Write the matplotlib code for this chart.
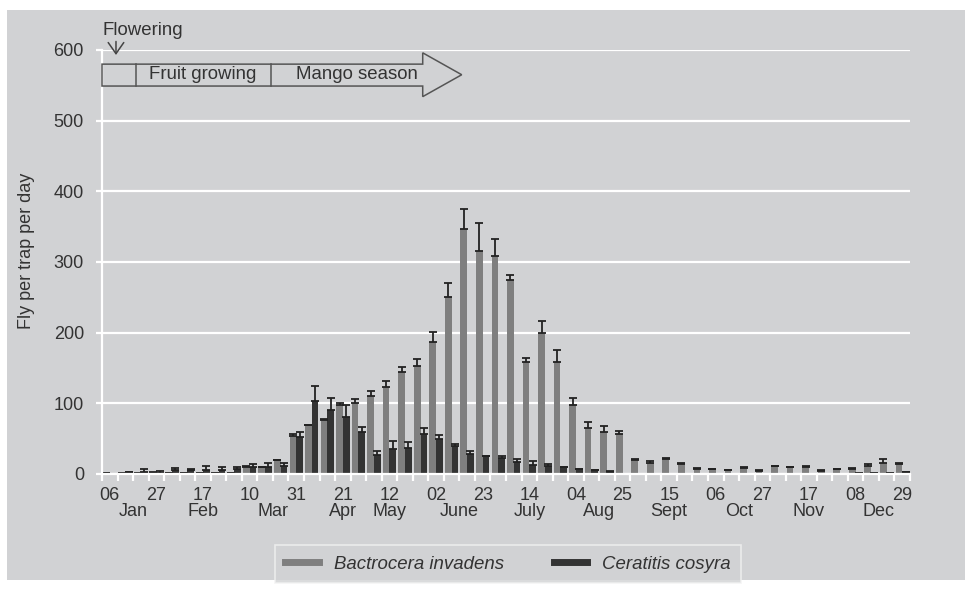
import matplotlib.pyplot as plt
from matplotlib import rcParams
from matplotlib.patches import Polygon, Rectangle
from matplotlib.lines import Line2D
import numpy as np

# Data (weekly, 06 Jan to 29 Dec)
day_labels = ["06", "27", "17", "10", "31", "21", "12", "02", "23", "14",
              "04", "25", "15", "06", "27", "17", "08", "29"]
label_months = ["Jan", "Jan", "Feb", "Mar", "Mar", "Apr", "May", "June", "June", "July",
                "Aug", "Aug", "Sept", "Oct", "Oct", "Nov", "Dec", "Dec"]

b_mean = [1, 0.5, 0.5, 2, 1.5, 1, 1, 1.5, 1, 10, 9.5, 19.5, 54, 70, 77, 97, 101, 110,
          123, 144, 153, 187, 250, 347, 316, 308, 274, 159, 200, 159, 98, 65, 59, 56,
          20, 16, 21, 13.5, 7, 6.7, 5.3, 9, 4.7, 10.8, 9.4, 10.4, 4.7, 6.6, 7.5, 11.8,
          15, 14]
b_err = [0.5, 0.3, 0.3, 0.8, 0.5, 0.3, 0.5, 0.5, 0.5, 1, 1, 1, 2, 0, 1, 4, 5, 7.5,
         8, 7, 10, 14, 20, 28, 39, 24, 8, 5, 17, 16, 10, 9, 9, 5,
         1.5, 3, 2, 2, 1, 1, 1, 1.5, 1, 0.8, 1, 1, 1, 1, 1, 2.5,
         6, 2]
c_mean = [0.3, 2.4, 3, 2, 5, 6, 6, 5, 6.6, 10, 10, 11, 52, 103, 91, 81, 59, 27,
          35, 37, 56, 50, 39, 28, 25, 22, 17, 13, 11, 9.5, 7, 5.5, 3.4, 0.5,
          0, 0, 0, 0, 0, 0, 0, 0, 0, 0, 0, 0, 0, 0, 1, 1,
          1, 2.8]
c_err = [0, 0.5, 4, 2, 3, 0.5, 6, 5, 4, 4, 5.5, 4, 8, 22, 17, 17, 8, 6,
         11, 8, 9, 5, 4, 5, 0, 3, 4, 5, 3, 0.5, 0.5, 0.5, 0.5, 0,
         0, 0, 0, 0, 0, 0, 0, 0, 0, 0, 0, 0, 0, 0, 0.3, 0.3,
         0.3, 0.3]

series_names = ["Bactrocera invadens", "Ceratitis cosyra"]
series_colors = ["#7f7f7f", "#333333"]

# Style
rcParams.update({"font.family": ["Liberation Sans", "DejaVu Sans"], "font.size": 13,
                 "text.color": "#333333"})
bg = "#d1d2d4"
txt = "#333333"
fs = 13

fig = plt.figure(figsize=(9.65, 5.89), dpi=100, facecolor="white")
fig.patches.append(Rectangle((7 / 965, 9 / 589), 1 - 7 / 965, 570 / 589,
                             transform=fig.transFigure, facecolor=bg,
                             edgecolor="none", zorder=-10))
ax = fig.add_axes([102 / 965, 115 / 589, 808 / 965, 424 / 589])
ax.set_facecolor(bg)
ax.set_zorder(2)

# Bars
n = len(b_mean)
x = np.arange(n)
w = 0.43
for vals, errs, off, color in [(b_mean, b_err, -w / 2, series_colors[0]),
                               (c_mean, c_err, w / 2, series_colors[1])]:
    vals = np.array(vals, dtype=float)
    errs = np.array(errs, dtype=float)
    ax.bar(x + off, vals, width=w, color=color, zorder=3)
    m = vals > 0
    ax.errorbar(x[m] + off, vals[m], yerr=[np.zeros(m.sum()), errs[m]], fmt="none",
                ecolor="#222222", elinewidth=1.3, capsize=3, capthick=1.3, zorder=4)

# Axes
ax.set_xlim(-0.5, n - 0.5)
ax.set_ylim(0, 600)
ax.set_yticks(np.arange(0, 601, 100))
ax.grid(axis="y", color="white", linewidth=1.6, zorder=1)
for s in ["top", "right"]:
    ax.spines[s].set_visible(False)
for s in ["left", "bottom"]:
    ax.spines[s].set_color("white")
    ax.spines[s].set_linewidth(1.6)
    ax.spines[s].set_zorder(5)
ax.tick_params(axis="y", colors="white", length=4, width=1.6, pad=9,
               labelcolor=txt, labelsize=fs)

label_idx = np.arange(0, n, 3)
ax.set_xticks(label_idx)
ax.set_xticklabels(day_labels, fontsize=fs, color=txt)
ax.tick_params(axis="x", which="major", length=0, pad=9)
ax.set_xticks(np.arange(-0.5, n, 1), minor=True)
ax.tick_params(axis="x", which="minor", colors="white", length=5, width=1.6)

# Month labels centred under their day labels
for mon in dict.fromkeys(label_months):
    pos = [label_idx[i] for i, mm in enumerate(label_months) if mm == mon]
    ax.text(np.mean(pos), -0.088, mon, transform=ax.get_xaxis_transform(),
            ha="center", va="center", fontsize=fs, color=txt)

ax.set_ylabel("Fly per trap per day", fontsize=13, color=txt)
ax.yaxis.set_label_coords(-0.083, 0.526)

# Season arrow
arrow = Polygon([(-0.5, 549), (20.14, 549), (20.14, 534), (22.65, 565), (20.14, 596),
                 (20.14, 580), (-0.5, 580)], closed=True, facecolor="none",
                edgecolor="#555555", linewidth=1.1, clip_on=False, zorder=6)
ax.add_patch(arrow)
for xd in [1.67, 10.38]:
    ax.plot([xd, xd], [549, 580], color="#555555", linewidth=1.1, clip_on=False, zorder=6)
ax.text(6.0, 565, "Fruit growing", ha="center", va="center", fontsize=13.4, color=txt)
ax.text(15.9, 565, "Mango season", ha="center", va="center", fontsize=13.4, color=txt)
ax.text(-0.45, 627, "Flowering", ha="left", va="center", fontsize=13.4, color=txt)
ax.annotate("", xy=(0.4, 589), xytext=(0.4, 616),
            arrowprops=dict(arrowstyle="->,head_width=0.35,head_length=0.5",
                            mutation_scale=16, color="#444444", lw=1.1),
            annotation_clip=False)

# Legend
handles = [Line2D([0], [0], color=c, lw=5) for c in series_colors]
leg = fig.legend(handles, series_names, loc="center", ncol=2,
                 bbox_to_anchor=(508 / 965, 1 - 564 / 589), frameon=True,
                 fancybox=False, handlelength=1.8, handletextpad=0.8,
                 columnspacing=2.7, borderpad=0.55, prop={"style": "italic", "size": 13.4})
leg.get_frame().set_facecolor(bg)
leg.get_frame().set_edgecolor("#f2f2f2")
leg.get_frame().set_linewidth(1.2)

plt.savefig("out.png", dpi=100, facecolor="white")
